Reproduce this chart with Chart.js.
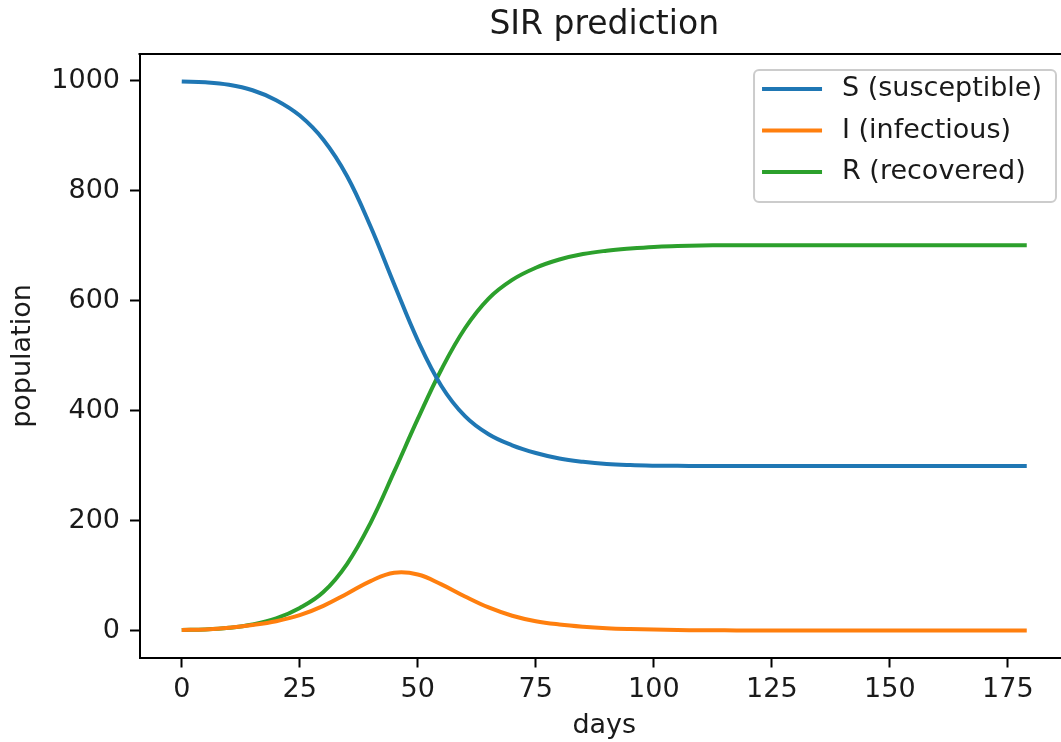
<!DOCTYPE html>
<html>
<head>
<meta charset="utf-8">
<title>SIR prediction</title>
<script src="https://cdn.jsdelivr.net/npm/chart.js@4/dist/chart.umd.min.js"></script>
<style>
  html, body { margin: 0; padding: 0; background: #fff; overflow: hidden; }
  #wrap { width: 1080px; height: 742px; }
</style>
</head>
<body>
<div id="wrap"><canvas id="sir" width="1080" height="742"></canvas></div>
<script>
// ---- data ----
const DAYS = [0, 5, 10, 15, 20, 25, 30, 35, 40, 45, 50, 55, 60, 65, 70, 75, 80, 85, 90, 95, 100,
  105, 110, 115, 120, 125, 130, 135, 140, 145, 150, 155, 160, 165, 170, 175, 179];
const S_VALS = [999, 997.5, 993, 983, 965, 937, 893, 827, 735, 630, 528, 445, 390, 357, 337, 323, 313, 307, 303, 301, 300,
  299.6, 299.5, 299.5, 299.5, 299.5, 299.5, 299.5, 299.5, 299.5, 299.5, 299.5, 299.5, 299.5, 299.5, 299.5, 299.5];
const I_VALS = [1, 2, 5, 10, 17, 28, 45, 67, 90, 105, 102, 84, 62, 42, 27, 17, 11, 7, 4.3, 2.7, 1.7,
  1, 0.6, 0.4, 0.2, 0.1, 0.1, 0, 0, 0, 0, 0, 0, 0, 0, 0, 0];
const R_VALS = [1, 2, 5, 11, 22, 41, 70, 121, 196, 289, 385, 475, 550, 604, 638, 660, 675, 685, 691, 695, 698,
  699.5, 700.5, 701, 701, 701, 701, 701, 701, 701, 701, 701, 701, 701, 701, 701, 701];

const SERIES = ['S (susceptible)', 'I (infectious)', 'R (recovered)'];
const COLORS = ['#1f77b4', '#ff7f0e', '#2ca02c'];
const X_TICKS = [0, 25, 50, 75, 100, 125, 150, 175];
const Y_TICKS = [0, 200, 400, 600, 800, 1000];

const FONT = 'DejaVu Sans';
const INK = '#1a1a1a';

const pts = vals => DAYS.map((d, i) => ({ x: d, y: vals[i] }));

// top spine + matplotlib-like legend box in the upper right
const mplExtras = {
  id: 'mplExtras',
  afterDatasetsDraw(chart) {
    const { ctx, chartArea: a } = chart;
    ctx.save();
    ctx.strokeStyle = '#000'; ctx.lineWidth = 2;
    ctx.beginPath(); ctx.moveTo(a.left - 1, a.top); ctx.lineTo(a.right + 1, a.top); ctx.lineTo(a.right, a.bottom); ctx.stroke();

    ctx.font = `27px "${FONT}"`;
    const maxW = Math.max(...SERIES.map(s => ctx.measureText(s).width));
    const w = 8 + 60 + 20 + maxW + 14, h = 132;
    const x0 = a.right - 13 - w, y0 = a.top + 16;
    ctx.fillStyle = 'rgba(255,255,255,0.8)';
    ctx.strokeStyle = '#cccccc'; ctx.lineWidth = 2;
    ctx.beginPath(); ctx.roundRect(x0, y0, w, h, 5); ctx.fill(); ctx.stroke();

    chart.data.datasets.forEach((ds, i) => {
      const y = y0 + 19 + i * 41.5;
      ctx.strokeStyle = ds.borderColor; ctx.lineWidth = 4;
      ctx.beginPath(); ctx.moveTo(x0 + 8, y); ctx.lineTo(x0 + 68, y); ctx.stroke();
      ctx.fillStyle = INK; ctx.textBaseline = 'middle'; ctx.textAlign = 'left';
      ctx.fillText(ds.label, x0 + 88, y);
    });
    ctx.restore();
  }
};

const tickFont = { family: FONT, size: 27 };

new Chart(document.getElementById('sir'), {
  type: 'line',
  data: {
    datasets: [S_VALS, I_VALS, R_VALS].map((v, i) => ({
      label: SERIES[i], data: pts(v), borderColor: COLORS[i], backgroundColor: COLORS[i],
      borderWidth: 4, pointRadius: 0, tension: 0.4, fill: false,
    })),
  },
  options: {
    responsive: false, animation: false, events: [],
    layout: { padding: { left: 0, top: 0, right: 11, bottom: 0 } },
    plugins: {
      legend: { display: false }, tooltip: { enabled: false },
      title: {
        display: true, text: 'SIR prediction', fullSize: false, color: INK,
        font: { family: FONT, size: 33, weight: 'normal' }, padding: { top: 5.8, bottom: 8.6 },
      },
    },
    scales: {
      x: {
        type: 'linear', min: -8.95, max: 187.95,
        afterBuildTicks: s => { s.ticks = X_TICKS.map(v => ({ value: v })); },
        afterFit: s => { s.height = 84; },
        grid: { drawOnChartArea: false, tickLength: 9.5, tickWidth: 2, tickColor: '#000' },
        border: { color: '#000', width: 2 },
        ticks: { color: INK, font: tickFont, padding: 6, maxRotation: 0, callback: v => String(v) },
        title: { display: true, text: 'days', color: INK, font: tickFont, padding: { top: 0, bottom: 0 } },
      },
      y: {
        type: 'linear', min: -49.95, max: 1048.95,
        afterBuildTicks: s => { s.ticks = Y_TICKS.map(v => ({ value: v })); },
        afterFit: s => { s.width = 139.5; },
        grid: { drawOnChartArea: false, tickLength: 9.5, tickWidth: 2, tickColor: '#000' },
        border: { color: '#000', width: 2 },
        ticks: { color: INK, font: tickFont, padding: 10, callback: v => String(v) },
        title: { display: true, text: 'population', color: INK, font: tickFont, padding: { top: 7, bottom: 0 } },
      },
    },
  },
  plugins: [mplExtras],
});
</script>
</body>
</html>
